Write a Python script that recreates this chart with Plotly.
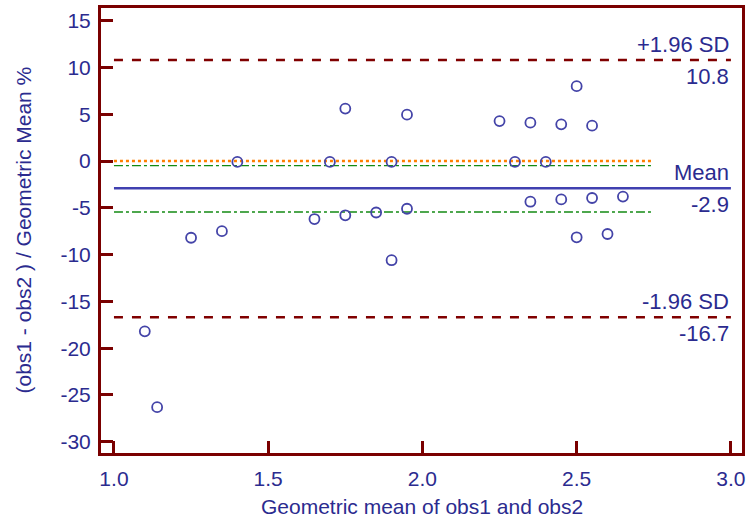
import plotly.graph_objects as go

# Data
gm = [1.10, 1.14, 1.25, 1.35, 1.40, 1.65, 1.70, 1.75, 1.75, 1.85, 1.90, 1.90, 1.95, 1.95,
      2.25, 2.30, 2.35, 2.35, 2.40, 2.45, 2.45, 2.50, 2.50, 2.55, 2.55, 2.60, 2.65]
diff_pct = [-18.2, -26.3, -8.2, -7.5, -0.1, -6.2, -0.1, 5.6, -5.8, -5.5, -0.1, -10.6, 4.95, -5.1,
            4.27, -0.1, 4.1, -4.35, -0.1, 3.92, -4.1, 8.0, -8.15, 3.78, -3.95, -7.8, -3.8]

mean_diff = -2.9
upper_loa = 10.8
lower_loa = -16.7
mean_ci = [-0.5, -5.45]
zero_ref = 0.0

line_x = [1.0, 3.0]
ci_x = [1.0, 2.75]

x_ticks = [1.0, 1.5, 2.0, 2.5, 3.0]
y_ticks = [15, 10, 5, 0, -5, -10, -15, -20, -25, -30]

x_title = "Geometric mean of obs1 and obs2"
y_title = "(obs1 - obs2 ) / Geometric Mean %"

AXC = "#7a0000"
TXT = "#2b2b8f"
MK = "#4444a8"
FONT = "Liberation Sans, Arial, sans-serif"

fig = go.Figure()

# reference line at zero (orange dotted)
fig.add_trace(go.Scatter(x=ci_x, y=[zero_ref, zero_ref], mode="lines",
                         line=dict(color="#ff7f00", width=2.5, dash="dot"), hoverinfo="skip"))
# CI of mean (green dash-dot)
for v in mean_ci:
    fig.add_trace(go.Scatter(x=ci_x, y=[v, v], mode="lines",
                             line=dict(color="#138a13", width=1.3, dash="dashdot"), hoverinfo="skip"))
# limits of agreement
for v in (upper_loa, lower_loa):
    fig.add_trace(go.Scatter(x=line_x, y=[v, v], mode="lines",
                             line=dict(color="#800000", width=2.5, dash="dash"), hoverinfo="skip"))
# mean line
fig.add_trace(go.Scatter(x=line_x, y=[mean_diff, mean_diff], mode="lines",
                         line=dict(color="#4040b0", width=2.5), hoverinfo="skip"))

# points
fig.add_trace(go.Scatter(x=gm, y=diff_pct, mode="markers",
                         marker=dict(symbol="circle-open", size=10, color=MK,
                                     line=dict(width=1.8, color=MK))))

labels = [("+1.96 SD", f"{upper_loa:.1f}", upper_loa),
          ("Mean", f"{mean_diff:.1f}", mean_diff),
          ("-1.96 SD", f"{lower_loa:.1f}", lower_loa)]
for top, bottom, yv in labels:
    fig.add_annotation(x=line_x[1], y=yv, text=top, showarrow=False, xanchor="right",
                       yanchor="bottom", yshift=1, font=dict(size=22, color=TXT, family=FONT))
    fig.add_annotation(x=line_x[1], y=yv, text=bottom, showarrow=False, xanchor="right",
                       yanchor="top", yshift=-2, font=dict(size=22, color=TXT, family=FONT))

# axis titles as annotations for precise placement
fig.add_annotation(text=x_title, xref="paper", yref="paper", x=0.5, y=0, yshift=-53,
                   xanchor="center", yanchor="middle", showarrow=False,
                   font=dict(size=21, color=TXT, family=FONT))
fig.add_annotation(text=y_title, xref="paper", yref="paper", x=0, y=0.5, xshift=-78,
                   textangle=-90, xanchor="center", yanchor="middle", showarrow=False,
                   font=dict(size=21, color=TXT, family=FONT))

axis_common = dict(showline=True, linewidth=3, linecolor=AXC, mirror=True,
                   ticks="inside", ticklen=12, tickwidth=3, tickcolor=AXC,
                   showgrid=False, zeroline=False, automargin=False,
                   tickfont=dict(size=21, color=TXT, family=FONT))

fig.update_xaxes(range=[0.958, 3.036], tickvals=x_ticks,
                 ticktext=[f"{v:.1f}" for v in x_ticks],
                 ticklabelstandoff=5, **axis_common)
fig.update_yaxes(range=[-31.2, 16.35], tickvals=y_ticks,
                 ticktext=[str(v) for v in y_ticks],
                 ticklabelstandoff=3, **axis_common)

fig.update_layout(width=748, height=521, margin=dict(l=101, r=6, t=8, b=68),
                  plot_bgcolor="white", paper_bgcolor="white", showlegend=False,
                  font=dict(family=FONT))

fig.write_html("out.html", config={"displayModeBar": False},
               post_script="document.body.style.margin='0';document.body.style.overflow='hidden';")
